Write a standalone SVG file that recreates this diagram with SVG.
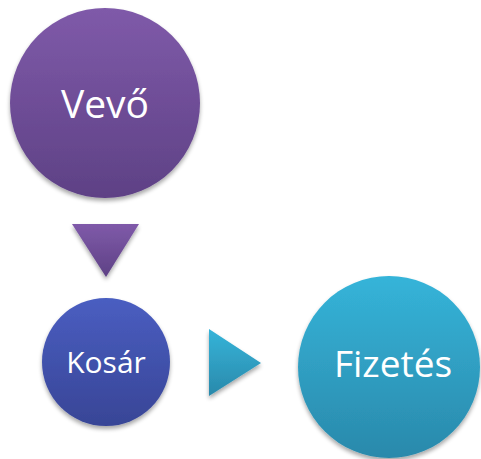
<svg xmlns="http://www.w3.org/2000/svg" width="481" height="459" viewBox="0 0 481 459">
  <defs>
    <linearGradient id="gPurple" x1="0" y1="0" x2="0" y2="1">
      <stop offset="0" stop-color="#7f5aa9"/>
      <stop offset="1" stop-color="#5e4185"/>
    </linearGradient>
    <linearGradient id="gBlue" x1="0" y1="0" x2="0" y2="1">
      <stop offset="0" stop-color="#4a5ec1"/>
      <stop offset="1" stop-color="#384596"/>
    </linearGradient>
    <linearGradient id="gTeal" x1="0" y1="0" x2="0" y2="1">
      <stop offset="0" stop-color="#35b4d9"/>
      <stop offset="1" stop-color="#2a89ab"/>
    </linearGradient>
    <filter id="shadow" x="-20%" y="-20%" width="140%" height="150%">
      <feGaussianBlur in="SourceAlpha" stdDeviation="2"/>
      <feOffset dx="0" dy="3" result="b"/>
      <feComponentTransfer><feFuncA type="linear" slope="0.35"/></feComponentTransfer>
      <feMerge><feMergeNode/><feMergeNode in="SourceGraphic"/></feMerge>
    </filter>
    <style>
      .lbl { font-family: "Open Sans", "Noto Sans", sans-serif; fill: #ffffff; text-anchor: middle; dominant-baseline: central; }
    </style>
  </defs>
  <rect width="481" height="459" fill="#ffffff"/>

  <g id="connectors">
    <polygon id="arrow-down" points="72,224 139,224 106,277" fill="url(#gPurple)" filter="url(#shadow)"/>
    <polygon id="arrow-right" points="209,329 261,363 209,396" fill="url(#gTeal)" filter="url(#shadow)"/>
  </g>

  <g id="vevo">
    <circle cx="105" cy="103" r="95" fill="url(#gPurple)" filter="url(#shadow)"/>
    <text class="lbl" x="105" y="102" font-size="39">Vevő</text>
  </g>

  <g id="kosar">
    <circle cx="106" cy="362" r="64" fill="url(#gBlue)" filter="url(#shadow)"/>
    <text class="lbl" x="106" y="361" font-size="30">Kosár</text>
  </g>

  <g id="fizetes">
    <circle cx="389" cy="367" r="91" fill="url(#gTeal)" filter="url(#shadow)"/>
    <text class="lbl" x="393" y="362" font-size="37">Fizetés</text>
  </g>
</svg>
